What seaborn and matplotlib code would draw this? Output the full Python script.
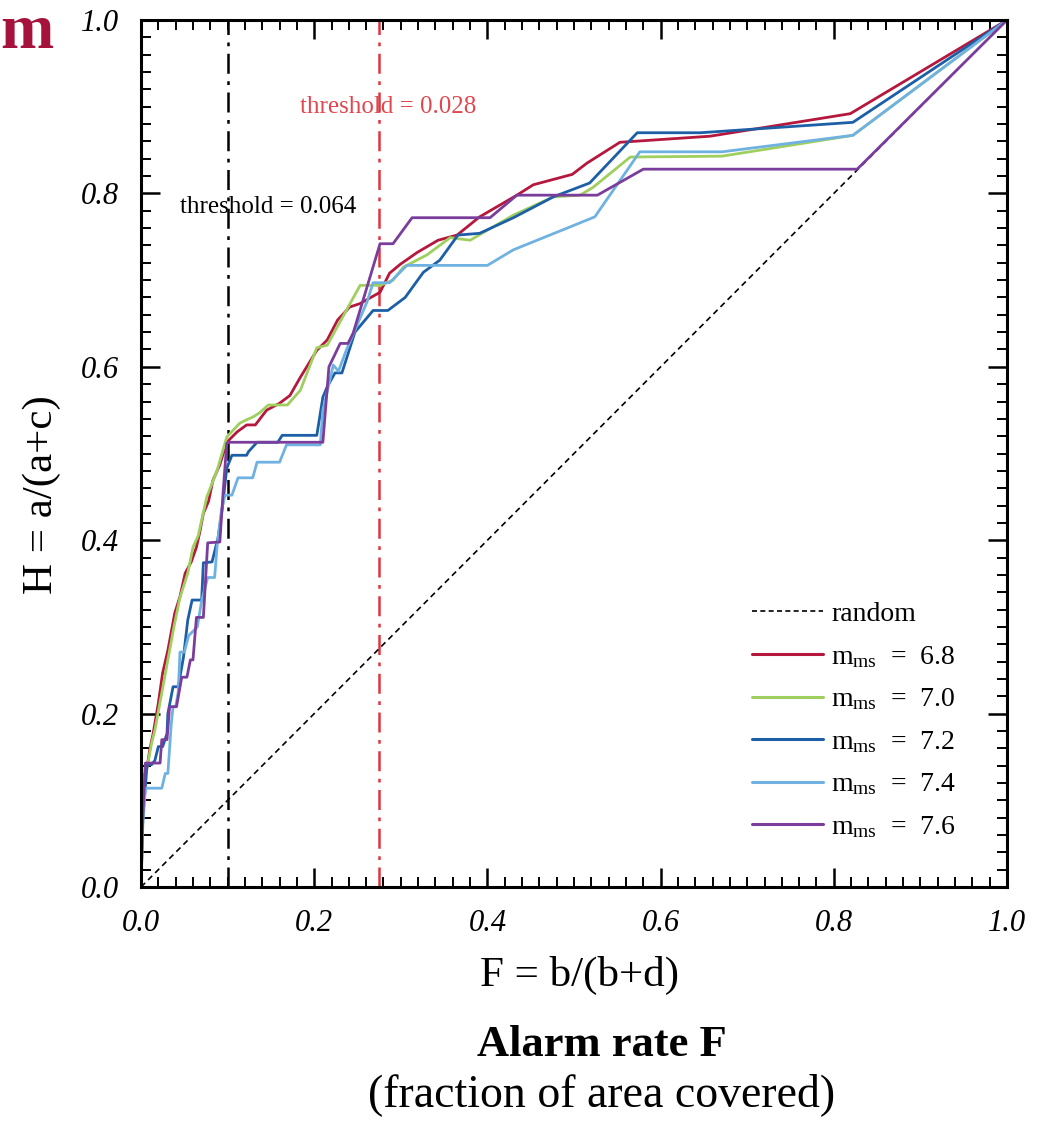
import numpy as np
import pandas as pd
import matplotlib
matplotlib.use("Agg")
import matplotlib.pyplot as plt
from matplotlib.lines import Line2D
from matplotlib.ticker import MultipleLocator, FormatStrFormatter
import seaborn as sns

# ROC-style curves: alarm rate F vs hit rate H for several mainshock magnitude cut-offs
labels = ["6.8", "7.0", "7.2", "7.4", "7.6"]
colors = ["#b5173d", "#9fcf5f", "#1d5fa6", "#6fb2e2", "#7a3d9c"]

f_68 = [0, 0.001, 0.002, 0.007, 0.010, 0.014, 0.020, 0.025, 0.031, 0.039, 0.045, 0.051, 0.058, 0.064,
        0.068, 0.072, 0.078, 0.083, 0.091, 0.099, 0.111, 0.122, 0.132, 0.145, 0.160, 0.172, 0.184,
        0.203, 0.215, 0.227, 0.241, 0.253, 0.276, 0.287, 0.299, 0.319, 0.343, 0.365, 0.391, 0.434,
        0.453, 0.498, 0.515, 0.553, 0.568, 0.657, 0.819, 1.0]
h_68 = [0, 0.080, 0.123, 0.138, 0.158, 0.177, 0.212, 0.247, 0.273, 0.316, 0.335, 0.362, 0.375, 0.392,
        0.410, 0.431, 0.445, 0.469, 0.487, 0.513, 0.525, 0.533, 0.533, 0.550, 0.558, 0.567, 0.588,
        0.619, 0.631, 0.654, 0.669, 0.673, 0.686, 0.708, 0.718, 0.732, 0.746, 0.752, 0.773, 0.798,
        0.810, 0.822, 0.835, 0.859, 0.860, 0.866, 0.892, 1.0]

f_70 = [0, 0.001, 0.002, 0.008, 0.012, 0.016, 0.024, 0.031, 0.038, 0.045, 0.054, 0.060, 0.066, 0.076,
        0.088, 0.099, 0.114, 0.122, 0.129, 0.137, 0.147, 0.169, 0.184, 0.203, 0.215, 0.253, 0.276,
        0.291, 0.303, 0.330, 0.357, 0.380, 0.430, 0.476, 0.507, 0.522, 0.565, 0.671, 0.822, 1.0]
h_70 = [0, 0.080, 0.120, 0.143, 0.165, 0.181, 0.224, 0.262, 0.300, 0.334, 0.362, 0.392, 0.405, 0.450,
        0.481, 0.519, 0.535, 0.539, 0.542, 0.547, 0.556, 0.556, 0.573, 0.622, 0.625, 0.694, 0.694,
        0.700, 0.715, 0.729, 0.749, 0.746, 0.775, 0.796, 0.798, 0.807, 0.842, 0.843, 0.867, 1.0]

f_72 = [0, 0.002, 0.005, 0.007, 0.012, 0.016, 0.020, 0.025, 0.030, 0.031, 0.037, 0.043, 0.049, 0.054,
        0.059, 0.070, 0.072, 0.082, 0.089, 0.094, 0.099, 0.105, 0.122, 0.124, 0.134, 0.158, 0.163,
        0.203, 0.210, 0.215, 0.224, 0.232, 0.247, 0.268, 0.285, 0.305, 0.326, 0.345, 0.366, 0.391,
        0.430, 0.476, 0.518, 0.573, 0.646, 0.822, 1.0]
h_72 = [0, 0.080, 0.115, 0.141, 0.141, 0.146, 0.162, 0.162, 0.177, 0.200, 0.231, 0.231, 0.265, 0.308,
        0.331, 0.331, 0.374, 0.375, 0.403, 0.438, 0.483, 0.498, 0.498, 0.502, 0.513, 0.513, 0.521,
        0.521, 0.565, 0.577, 0.593, 0.593, 0.640, 0.665, 0.665, 0.680, 0.709, 0.723, 0.752, 0.754,
        0.772, 0.796, 0.812, 0.870, 0.870, 0.882, 1.0]

f_74 = [0, 0.002, 0.005, 0.024, 0.028, 0.031, 0.035, 0.037, 0.040, 0.043, 0.045, 0.050, 0.055, 0.065,
        0.070, 0.077, 0.085, 0.088, 0.093, 0.097, 0.105, 0.112, 0.129, 0.134, 0.160, 0.168, 0.207,
        0.210, 0.222, 0.228, 0.237, 0.261, 0.268, 0.287, 0.307, 0.400, 0.430, 0.492, 0.524, 0.576,
        0.671, 0.822, 1.0]
h_74 = [0, 0.070, 0.114, 0.114, 0.131, 0.131, 0.189, 0.208, 0.208, 0.225, 0.271, 0.271, 0.290, 0.300,
        0.330, 0.357, 0.357, 0.395, 0.435, 0.452, 0.452, 0.472, 0.472, 0.490, 0.490, 0.510, 0.510,
        0.550, 0.602, 0.595, 0.619, 0.675, 0.697, 0.697, 0.717, 0.717, 0.735, 0.760, 0.773, 0.848,
        0.848, 0.867, 1.0]

f_76 = [0, 0.002, 0.005, 0.022, 0.024, 0.030, 0.033, 0.041, 0.047, 0.053, 0.057, 0.060, 0.064, 0.072,
        0.077, 0.091, 0.095, 0.099, 0.103, 0.210, 0.217, 0.230, 0.239, 0.245, 0.276, 0.291, 0.313,
        0.403, 0.434, 0.527, 0.580, 0.827, 1.0]
h_76 = [0, 0.080, 0.143, 0.143, 0.170, 0.170, 0.208, 0.208, 0.242, 0.242, 0.262, 0.262, 0.311, 0.311,
        0.397, 0.398, 0.458, 0.512, 0.513, 0.513, 0.600, 0.627, 0.627, 0.639, 0.742, 0.742, 0.772,
        0.772, 0.798, 0.798, 0.828, 0.828, 1.0]

thresholds = [0.064, 0.028]
threshold_f = [0.100, 0.275]

curves = {"6.8": (f_68, h_68), "7.0": (f_70, h_70), "7.2": (f_72, h_72),
          "7.4": (f_74, h_74), "7.6": (f_76, h_76)}
rows = []
for lab in labels:
    F, H = curves[lab]
    for i, (fv, hv) in enumerate(zip(F, H)):
        rows.append({"F": fv, "H": hv, "m": lab, "order": i})
df = pd.DataFrame(rows)
diag = pd.DataFrame({"F": [0.0, 1.0], "H": [0.0, 1.0]})

sns.set_style("ticks")
serif = ["Liberation Serif", "DejaVu Serif"]
plt.rcParams["font.family"] = serif
plt.rcParams["mathtext.fontset"] = "custom"
plt.rcParams["mathtext.rm"] = "Liberation Serif"
plt.rcParams["mathtext.it"] = "Liberation Serif:italic"
for key in ["text.color", "axes.labelcolor", "xtick.color", "ytick.color"]:
    plt.rcParams[key] = "black"

fig = plt.figure(figsize=(10.43, 11.32), dpi=100)
ax = fig.add_axes([0.1352, 0.2164, 0.8303, 0.7659])

# random-guess diagonal
sns.lineplot(data=diag, x="F", y="H", ax=ax, color="black", lw=1.2,
             linestyle=(0, (3.5, 2.5)), legend=False)

sns.lineplot(data=df, x="F", y="H", hue="m", hue_order=labels, palette=colors,
             estimator=None, sort=False, units="m", lw=2.0, ax=ax, legend=False)

# threshold markers
ax.axvline(threshold_f[0], color="black", lw=1.8, linestyle=(0, (8, 3, 1.5, 3)), zorder=1)
ax.axvline(threshold_f[1], color="#e0353c", lw=1.8, linestyle=(0, (8, 3, 1.5, 3)), zorder=1)
ax.text(0.045, 0.784, f"threshold = {thresholds[0]:.3f}", fontsize=18, color="black",
        va="center", ha="left")
ax.text(0.184, 0.900, f"threshold = {thresholds[1]:.3f}", fontsize=18, color="#e0474f",
        va="center", ha="left")

ax.set_xlim(0, 1)
ax.set_ylim(0, 1)
ax.xaxis.set_major_locator(MultipleLocator(0.2))
ax.yaxis.set_major_locator(MultipleLocator(0.2))
ax.xaxis.set_minor_locator(MultipleLocator(0.02))
ax.yaxis.set_minor_locator(MultipleLocator(0.02))
ax.xaxis.set_major_formatter(FormatStrFormatter("%.1f"))
ax.yaxis.set_major_formatter(FormatStrFormatter("%.1f"))
ax.tick_params(which="both", direction="in", top=True, right=True, color="black")
ax.tick_params(which="major", length=14, width=1.8, labelsize=22)
ax.tick_params(which="minor", length=7, width=1.4)
ax.tick_params(axis="x", which="major", pad=16)
ax.tick_params(axis="y", which="major", pad=16)
for lab in ax.get_xticklabels() + ax.get_yticklabels():
    lab.set_fontstyle("italic")
for sp in ax.spines.values():
    sp.set_linewidth(2.2)
    sp.set_color("black")

ax.set_xlabel("")
ax.set_ylabel("")
fig.text(580 / 1043, 1 - 975 / 1132, "F = b/(b+d)", fontsize=31, ha="center", va="center")
fig.text(42 / 1043, 1 - 495 / 1132, "H = a/(a+c)", fontsize=31, rotation=90,
         ha="center", va="center")

handles = [Line2D([], [], color="black", lw=1.2, linestyle=(0, (3, 2)))]
handles += [Line2D([], [], color=c, lw=2.2) for c in colors]
texts = ["random"] + [r"m$_{\mathrm{ms}}$  =  " + l for l in labels]
ax.legend(handles, texts, loc="upper left", bbox_to_anchor=(0.677, 0.358), frameon=False,
          fontsize=20, handlelength=2.55, labelspacing=0.6, handletextpad=0.3)

fig.text(602 / 1043, 1 - 1045 / 1132, "Alarm rate F", fontsize=32, fontweight="bold",
         ha="center", va="center")
fig.text(602 / 1043, 1 - 1095 / 1132, "(fraction of area covered)", fontsize=33,
         ha="center", va="center")
fig.text(0.0, 1 - 33 / 1132, "m", fontsize=46, fontweight="bold", color="#a5133d",
         ha="left", va="center")

fig.savefig("out.png", dpi=100, facecolor="white")
